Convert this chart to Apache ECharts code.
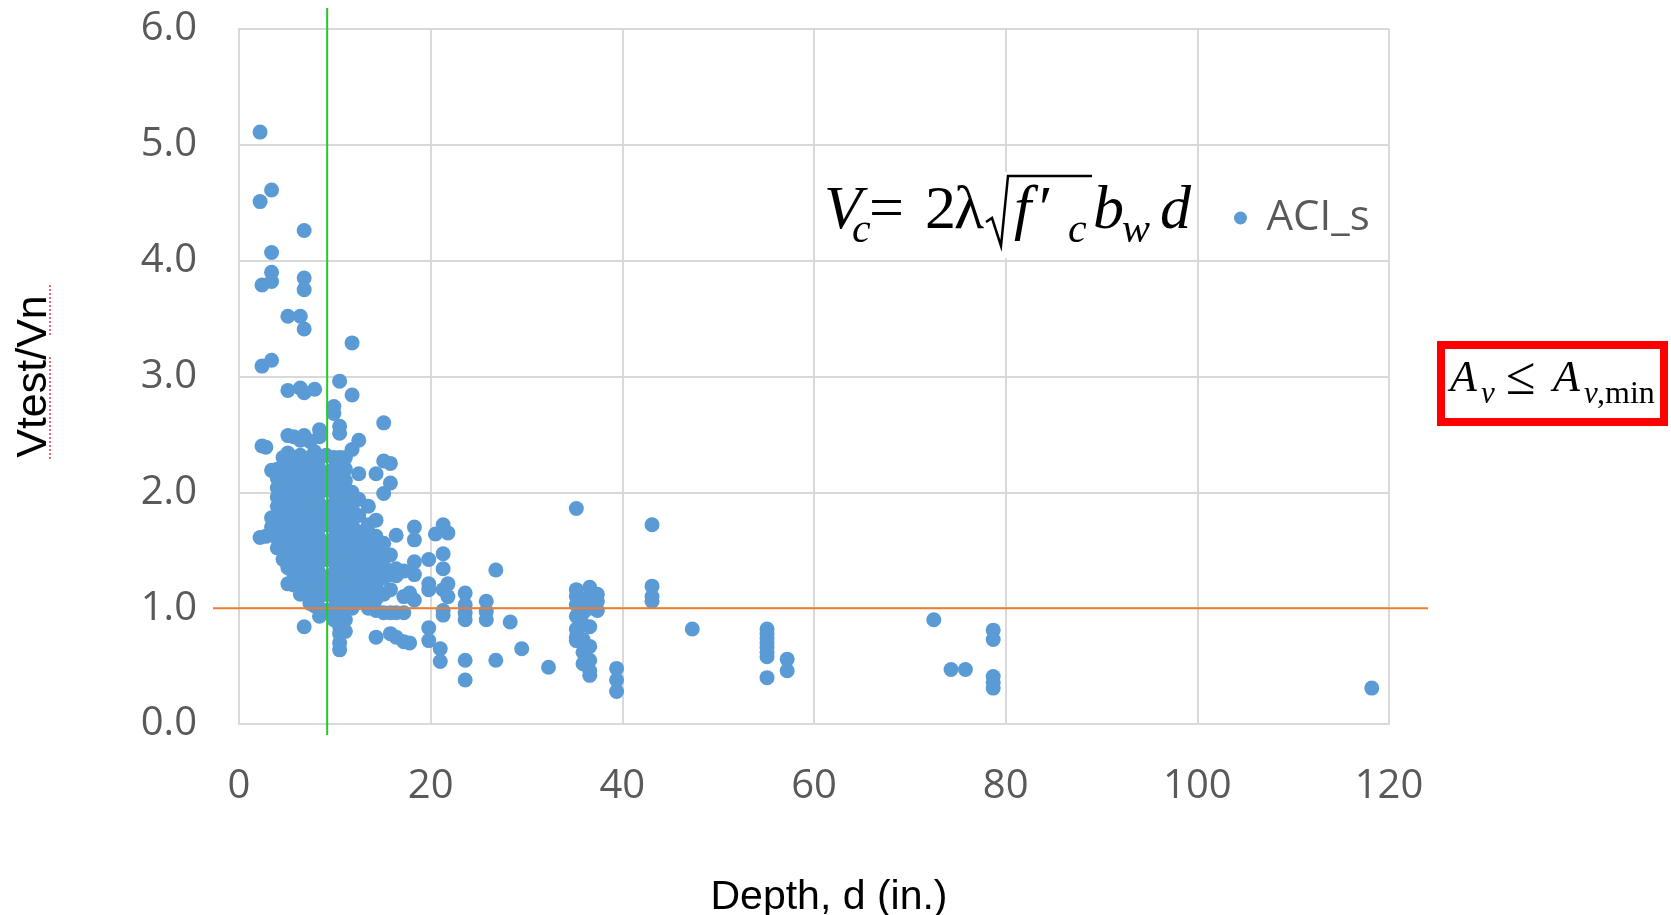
<!DOCTYPE html>
<html><head><meta charset="utf-8">
<script src="https://cdn.jsdelivr.net/npm/echarts@6/dist/echarts.min.js"></script>
<style>html,body{margin:0;padding:0;background:#fff}#c{width:1671px;height:915px}</style>
</head><body><div id="c"></div>
<script>
// ---- axis settings ----
const xRange = [0, 120], xStep = 20;
const yRange = [0, 6], yStep = 1;
const seriesName = 'ACI_s';
const limitRatio = 1.0;      // horizontal reference line (Vtest/Vn = 1)
const limitDepth = 9.2;      // vertical reference line (depth, in.)

// ---- data: depth columns (in.) and Vtest/Vn ratios read at each depth ----
const colDepth = [2.2, 2.4, 2.8, 3.4, 4.0, 4.6, 5.1, 5.7, 6.4, 6.8, 7.4, 7.9, 8.4, 9.1, 9.9, 10.5, 11.1, 11.8, 12.5, 13.5, 14.3, 15.1, 15.8, 16.4, 17.2, 17.8, 18.3, 19.8, 20.5, 21.0, 21.3, 21.8, 23.6, 25.8, 26.8, 28.3, 29.5, 32.3, 35.2, 35.9, 36.6, 37.4, 39.4, 43.1, 47.3, 55.1, 57.2, 72.5, 74.3, 75.8, 78.7, 118.2];
const colRatio = [
  [5.11, 4.51, 1.61],
  [3.79, 3.09, 2.40],
  [2.39, 1.62],
  [4.61, 4.07, 3.90, 3.82, 3.14, 2.19, 1.78, 1.70],
  [2.20, 2.12, 2.04, 1.96, 1.88, 1.80, 1.72, 1.60, 1.52],
  [2.30, 2.22, 2.10, 2.00, 1.92, 1.84, 1.76, 1.68, 1.58, 1.50, 1.42],
  [3.52, 2.88, 2.49, 2.34, 2.25, 2.15, 2.05, 1.95, 1.85, 1.75, 1.65, 1.55, 1.45, 1.35, 1.21],
  [2.48, 2.30, 2.20, 2.10, 2.00, 1.90, 1.80, 1.70, 1.60, 1.50, 1.40, 1.30, 1.20],
  [3.52, 2.90, 2.45, 2.32, 2.22, 2.12, 2.02, 1.92, 1.82, 1.72, 1.62, 1.52, 1.42, 1.32, 1.22, 1.12],
  [4.26, 3.85, 3.75, 3.41, 2.86, 2.49, 0.84],
  [2.44, 2.30, 2.20, 2.10, 2.00, 1.90, 1.80, 1.70, 1.60, 1.50, 1.40, 1.30, 1.20, 1.10, 1.04],
  [2.89, 2.35, 2.25, 2.15, 2.05, 1.95, 1.85, 1.75, 1.65, 1.55, 1.45, 1.35, 1.25, 1.15, 1.02],
  [2.54, 2.48, 2.29, 2.20, 2.10, 2.00, 1.90, 1.80, 1.70, 1.60, 1.50, 1.40, 1.30, 1.20, 1.10, 1.00, 0.93],
  [2.32, 2.16, 2.02, 1.86, 1.72, 1.56, 1.42, 1.26, 1.12, 0.98],
  [2.74, 2.68, 2.30, 2.20, 2.10, 2.00, 1.90, 1.80, 1.70, 1.60, 1.50, 1.40, 1.30, 1.20, 1.10, 1.00, 0.90],
  [2.96, 2.57, 2.51, 2.30, 2.24, 2.16, 2.08, 2.00, 1.90, 1.80, 1.70, 1.60, 1.50, 1.40, 1.30, 1.20, 1.10, 1.00, 0.92, 0.84, 0.78, 0.70, 0.64],
  [2.30, 2.20, 2.10, 2.00, 1.90, 1.80, 1.70, 1.60, 1.50, 1.40, 1.30, 1.20, 1.10, 1.00, 0.90, 0.80],
  [3.29, 2.84, 2.37, 2.00, 1.86, 1.72, 1.60, 1.50, 1.40, 1.30, 1.20, 1.10, 1.00],
  [2.45, 2.16, 1.94, 1.80, 1.66, 1.55, 1.45, 1.35, 1.25, 1.15, 1.05],
  [1.88, 1.72, 1.60, 1.50, 1.40, 1.30, 1.20, 1.10, 1.00],
  [2.16, 1.76, 1.62, 1.50, 1.40, 1.30, 1.20, 1.08, 0.98, 0.75],
  [2.60, 2.27, 1.99, 1.56, 1.46, 1.36, 1.26, 1.12, 0.96],
  [2.25, 2.08, 1.46, 1.29, 1.16, 0.96, 0.78],
  [1.63, 1.34, 1.28, 0.96, 0.75],
  [1.32, 1.10, 0.96, 0.71],
  [1.13, 0.70],
  [1.70, 1.59, 1.40, 1.29, 1.07],
  [1.42, 1.21, 1.16, 0.83, 0.72],
  [1.64],
  [0.65, 0.54],
  [1.72, 1.47, 1.34, 1.16, 0.98, 0.94],
  [1.65, 1.21, 1.10],
  [1.13, 1.03, 0.96, 0.90, 0.55, 0.38],
  [1.06, 0.97, 0.90],
  [1.33, 0.55],
  [0.88],
  [0.65],
  [0.49],
  [1.86, 1.16, 1.10, 1.03, 0.93, 0.82, 0.75, 0.72],
  [1.08, 0.96, 0.86, 0.73, 0.62, 0.52],
  [1.18, 1.10, 1.00, 0.84, 0.67, 0.55, 0.46, 0.42],
  [1.12, 1.06, 0.98],
  [0.48, 0.38, 0.28],
  [1.72, 1.19, 1.10, 1.06],
  [0.82],
  [0.82, 0.78, 0.74, 0.70, 0.66, 0.62, 0.58, 0.40],
  [0.56, 0.46],
  [0.90],
  [0.47],
  [0.47],
  [0.81, 0.73, 0.41, 0.36, 0.31],
  [0.31]
];

// build point table from the columns
const points = [];
colDepth.forEach((d, i) => colRatio[i].forEach(r => points.push([d, r])));

const chart = echarts.init(document.getElementById('c'), null, {renderer: 'canvas'});
const gridLine = {lineStyle: {color: '#d9d9d9', width: 2}};
const tickFont = {fontFamily: 'Open Sans', fontSize: 40, color: '#595959'};
const G = {left: 239, right: 282, top: 29, bottom: 191, outerBoundsMode: 'none', containLabel: false};

// text helpers for the annotations (middle-aligned, y given so baselines line up)
const serif = 'Liberation Serif';
function txt(x, y, s, size, italic) {
  return {type: 'text', z: 51, x: x, y: y,
    style: {text: s, fontFamily: serif, fontSize: size, fontStyle: italic ? 'italic' : 'normal',
            fill: '#000', verticalAlign: 'middle', align: 'left'}};
}
const mainY = 212, subY = 231, mainF = 62, subF = 42;
const boxY = 379, boxSubY = 395;

chart.setOption({
  animation: false,
  backgroundColor: '#fff',
  grid: [
    G,
    {left: 213, right: 243, top: G.top, bottom: G.bottom, outerBoundsMode: 'none'},
    {left: G.left, right: G.right, top: 8, bottom: 180, outerBoundsMode: 'none'}
  ],
  xAxis: [
    {
      gridIndex: 0, type: 'value', min: xRange[0], max: xRange[1], interval: xStep,
      axisLine: {show: true, lineStyle: {color: '#d9d9d9', width: 2}}, axisTick: {show: false},
      splitLine: {show: true, ...gridLine},
      axisLabel: {...tickFont, margin: 43},
      name: 'Depth, d (in.)', nameLocation: 'middle', nameGap: 153,
      nameTextStyle: {fontFamily: 'Liberation Sans', fontSize: 41, color: '#000', padding: [0, 0, 0, 30]}
    },
    {gridIndex: 1, type: 'value', min: 0, max: 1, show: false},
    {gridIndex: 2, type: 'value', min: xRange[0], max: xRange[1], show: false}
  ],
  yAxis: [
    {
      gridIndex: 0, type: 'value', min: yRange[0], max: yRange[1], interval: yStep,
      axisLine: {show: true, lineStyle: {color: '#d9d9d9', width: 2}}, axisTick: {show: false},
      splitLine: {show: true, ...gridLine},
      axisLabel: {...tickFont, margin: 42, formatter: v => v.toFixed(1)},
      name: 'Vtest/Vn', nameLocation: 'middle', nameRotate: 90, nameGap: 183,
      nameTextStyle: {fontFamily: 'Liberation Sans', fontSize: 43, color: '#000'}
    },
    {gridIndex: 1, type: 'value', min: yRange[0], max: yRange[1], show: false},
    {gridIndex: 2, type: 'value', min: 0, max: 1, show: false}
  ],
  legend: {
    data: [seriesName], left: 1229, top: 191, icon: 'circle',
    itemWidth: 42, itemHeight: 13,
    textStyle: {fontFamily: 'Open Sans', fontSize: 42, color: '#595959', lineHeight: 44}
  },
  series: [
    {
      name: seriesName, type: 'scatter', xAxisIndex: 0, yAxisIndex: 0,
      symbol: 'circle', symbolSize: 15, itemStyle: {color: '#5B9BD5', opacity: 1},
      data: points, z: 2
    },
    {
      name: 'limitRatio', type: 'line', xAxisIndex: 1, yAxisIndex: 1, symbol: 'none',
      lineStyle: {color: '#ED7D31', width: 2}, data: [[0, limitRatio], [1, limitRatio]], z: 5
    },
    {
      name: 'limitDepth', type: 'line', xAxisIndex: 2, yAxisIndex: 2, symbol: 'none',
      lineStyle: {color: '#22CC22', width: 2}, data: [[limitDepth, 0], [limitDepth, 1]], z: 6
    }
  ],
  graphic: [
    // formula V_c = 2λ√(f'_c) b_w d
    {type: 'rect', z: 50, shape: {x: 818, y: 172, width: 378, height: 86}, style: {fill: '#fff'}},
    txt(824, mainY, 'V', mainF, true),
    txt(852, subY, 'c', subF, true),
    txt(869, mainY, '=', mainF, false),
    txt(925, mainY, '2', mainF, false),
    txt(954, mainY, 'λ', mainF, false),
    {type: 'polyline', z: 51, shape: {points: [[986, 222], [992, 218], [1001, 246], [1008, 176], [1092, 176]]},
     style: {stroke: '#000', lineWidth: 2.5, fill: null, lineJoin: 'miter'}},
    txt(1014, mainY, 'f', mainF, true),
    txt(1039, mainY, '′', mainF, false),
    txt(1068, subY, 'c', subF, true),
    txt(1093, mainY, 'b', mainF, true),
    txt(1122, subY, 'w', subF, true),
    txt(1160, mainY, 'd', mainF, true),
    // red box  A_v ≤ A_v,min
    {type: 'rect', z: 50, shape: {x: 1441, y: 345, width: 223, height: 77}, style: {fill: '#fff', stroke: '#ff0000', lineWidth: 8}},
    txt(1450, boxY, 'A', 44, true),
    txt(1481, boxSubY, 'v', 31, true),
    txt(1506, boxY + 1, '≤', 54, false),
    txt(1553, boxY, 'A', 44, true),
    txt(1584, boxSubY, 'v', 31, true),
    txt(1597, boxSubY, ',min', 32, false),
    // spell-check squiggle under the y title
    {type: 'line', z: 51, shape: {x1: 50, y1: 285, x2: 50, y2: 337}, style: {stroke: '#e04040', lineWidth: 1.5, lineDash: [2, 2]}},
    {type: 'line', z: 51, shape: {x1: 50, y1: 357, x2: 50, y2: 459}, style: {stroke: '#e04040', lineWidth: 1.5, lineDash: [2, 2]}}
  ]
});
</script></body></html>
